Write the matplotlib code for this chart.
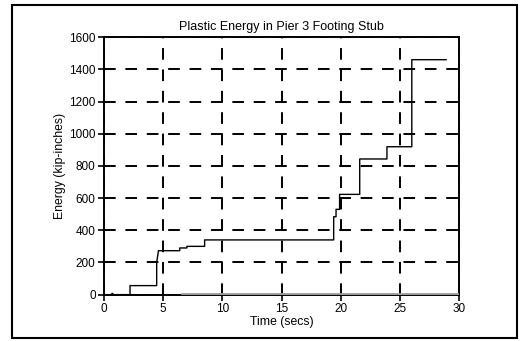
import matplotlib
matplotlib.use("Agg")
import matplotlib.pyplot as plt
from matplotlib.patches import Rectangle

# Step curve of plastic energy (time in secs, energy in kip-inches)
time_main = [0.0, 0.6, 0.7, 0.8, 2.2, 2.2, 4.45, 4.45, 4.6, 6.4, 6.4, 7.0, 7.0, 8.5, 8.5,
             19.4, 19.4, 19.6, 19.6, 19.9, 19.9, 21.6, 21.6, 23.9, 23.9, 26.0, 26.0, 28.9]
energy_main = [0, 0, 8, 0, 0, 56, 56, 200, 273, 273, 290, 290, 300, 300, 340,
               340, 484, 484, 530, 530, 623, 623, 843, 843, 919, 919, 1460, 1460]

# Near-zero secondary series
time_low = [6.6, 30.0]
energy_low = [5, 5]

xticks = [0, 5, 10, 15, 20, 25, 30]
yticks = [0, 200, 400, 600, 800, 1000, 1200, 1400, 1600]

plt.rcParams['font.family'] = ['Liberation Sans', 'DejaVu Sans']
plt.rcParams['font.size'] = 8.5

fig = plt.figure(figsize=(5.2, 3.41), dpi=100)
ax = fig.add_axes([0.2, 0.136, 0.683, 0.755])

ax.plot(time_low, energy_low, color='#999999', lw=2.0, zorder=3)
ax.plot(time_main, energy_main, color='black', lw=1.0, zorder=4)

ax.set_xlim(0, 30)
ax.set_ylim(0, 1600)
ax.set_xticks(xticks)
ax.set_yticks(yticks)
ax.grid(True, color='black', linestyle=(0, (6, 5)), lw=1.4)
ax.tick_params(direction='inout', length=8, width=1.2, labelsize=8.5, pad=2)
for s in ax.spines.values():
    s.set_linewidth(1.4)

ax.set_title('Plastic Energy in Pier 3 Footing Stub', fontsize=9, pad=5)
ax.set_xlabel('Time (secs)', fontsize=8.8, labelpad=1)
ax.set_ylabel('Energy (kip-inches)', fontsize=8.8, labelpad=2)

fig.patches.append(Rectangle((12/520, 3/341), 505/520, 1 - 8/341, transform=fig.transFigure,
                             fill=False, edgecolor='black', lw=1.5))

fig.savefig('out.png', dpi=100)
